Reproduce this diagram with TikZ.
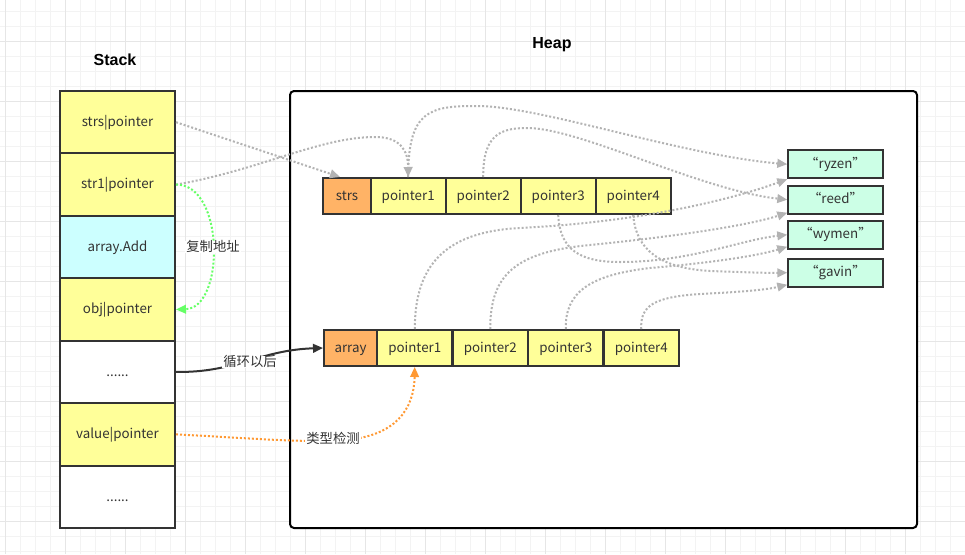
\documentclass[tikz,border=0pt]{standalone}
\usepackage{fontspec}
\setmainfont{Noto Sans CJK SC}
\newfontfamily\titlefont{Liberation Sans}
\usetikzlibrary{arrows.meta,calc}
\definecolor{bd}{HTML}{333333}
\definecolor{yel}{HTML}{FFFF99}
\definecolor{org}{HTML}{FFB366}
\definecolor{cyn}{HTML}{CCFFFF}
\definecolor{mint}{HTML}{CCFFE6}
\definecolor{gline}{HTML}{B3B3B3}
\definecolor{grn}{HTML}{66FF66}
\definecolor{orl}{HTML}{FF9933}
\definecolor{gridminor}{HTML}{F3F3F3}
\definecolor{gridmajor}{HTML}{E6E6E6}
\begin{document}
\begin{tikzpicture}[x=0.75pt,y=-0.75pt,
  txt/.style={font=\fontsize{10}{12}\selectfont,text=bd,text height=7pt,text depth=0.6pt},
  cell/.style={txt,draw=bd,line width=1.5pt,inner sep=0pt,minimum width=86.25pt,minimum height=46.8pt},
  hcell/.style={txt,draw=bd,line width=1.5pt,inner sep=0pt,fill=yel,minimum height=27pt},
  scell/.style={txt,draw=bd,line width=1.5pt,inner sep=0pt,fill=mint,minimum width=70.8pt,minimum height=21pt},
  ttl/.style={font=\titlefont\bfseries\fontsize{12}{14}\selectfont,text=black},
  lbl/.style={txt,fill=white,inner sep=1pt},
  dotline/.style={line width=1.5pt,dash pattern=on 1.5pt off 1.5pt},
  gconn/.style={dotline,draw=gline,-{Triangle[length=7.5pt,width=6.5pt]}},
  grnconn/.style={dotline,draw=grn,-{Triangle[length=7.5pt,width=6.5pt]}},
  orconn/.style={dotline,draw=orl,-{Triangle[length=7.5pt,width=6.5pt]}},
  darkconn/.style={draw=bd,line width=1.5pt,-{Triangle[length=7.5pt,width=6.5pt]}}]
\useasboundingbox (0,0) rectangle (965,554);
\fill[white] (0,0) rectangle (965,554);
% grid
\foreach \x in {5,20,...,965} \draw[gridminor,line width=0.75pt] (\x,0) -- (\x,554);
\foreach \y in {11.7,26.7,...,554} \draw[gridminor,line width=0.75pt] (0,\y) -- (965,\y);
\foreach \x in {5,65,...,965} \draw[gridmajor,line width=0.75pt] (\x,0) -- (\x,554);
\foreach \y in {41.7,101.7,...,554} \draw[gridmajor,line width=0.75pt] (0,\y) -- (965,\y);
% titles
\node[ttl] (stacktitle) at (115,60) {Stack};
\node[ttl] (heaptitle) at (552,45) {Heap};
% heap container
\node[draw=black,line width=1.5pt,fill=white,rounded corners=3pt,minimum width=470.25pt,minimum height=327.75pt,inner sep=0pt] (heap) at (603.5,309.5) {};
% stack
\node[cell,fill=yel] (sp) at (117.5,122.2) {strs|pointer};
\node[cell,fill=yel] (s1) at (117.5,184.6) {str1|pointer};
\node[cell,fill=cyn] (add) at (117.5,247.1) {array.Add};
\node[cell,fill=yel] (obj) at (117.5,309.5) {obj|pointer};
\node[cell,fill=white] (dots1) at (117.5,371.9) {......};
\node[cell,fill=yel] (val) at (117.5,434.4) {value|pointer};
\node[cell,fill=white] (dots2) at (117.5,496.8) {......};
% strs row
\node[hcell,fill=org,minimum width=35.55pt] (strs) at (347,196) {strs};
\node[hcell,minimum width=56.25pt] (hp1) at (408.2,196) {pointer1};
\node[hcell,minimum width=56.25pt] (hp2) at (483.2,196) {pointer2};
\node[hcell,minimum width=56.25pt] (hp3) at (558.2,196) {pointer3};
\node[hcell,minimum width=56.25pt] (hp4) at (633.2,196) {pointer4};
% array row
\node[hcell,fill=org,minimum width=39.75pt] (arr) at (350.5,348) {array};
\node[hcell,minimum width=56.6pt] (ap1) at (414.75,348) {pointer1};
\node[hcell,minimum width=56.6pt] (ap2) at (490.25,348) {pointer2};
\node[hcell,minimum width=56.6pt] (ap3) at (565.75,348) {pointer3};
\node[hcell,minimum width=56.6pt] (ap4) at (641.25,348) {pointer4};
% strings
\node[scell] (ryzen) at (835.5,164.2) {“ryzen”};
\node[scell] (reed) at (835.5,199.7) {“reed”};
\node[scell] (wymen) at (835.5,234.7) {“wymen”};
\node[scell] (gavin) at (835.5,272.7) {“gavin”};
% gray connectors
\draw[gconn] (sp.east) -- ($(strs.north)+(-7,0)$);
\draw[gconn] (s1.east) .. controls (260,170) and (320,137) .. (375,137) .. controls (400,137) and (408,150) .. (hp1.north);
\draw[gconn] (hp1.north) .. controls (408,110) and (430,106) .. (477,106) .. controls (540,106) and (680,155) .. (ryzen.west);
\draw[gconn] (hp2.north) .. controls (483,135) and (500,128) .. (527,128) .. controls (580,128) and (700,190) .. (reed.west);
\draw[gconn] (hp3.south) .. controls (560,250) and (580,262) .. (620,262) .. controls (690,262) and (740,240) .. (wymen.west);
\draw[gconn] (hp4.south) .. controls (636,250) and (660,268) .. (710,271) .. controls (740,272) and (760,273) .. (gavin.west);
\draw[gconn] (ap1.north) .. controls (415,270) and (440,232) .. (520,228) .. controls (640,222) and (730,200) .. (ryzen.south west);
\draw[gconn] (ap2.north) .. controls (490,275) and (515,252) .. (590,245) .. controls (680,236) and (750,225) .. ($(reed.south west)+(0,-2)$);
\draw[gconn] (ap3.north) .. controls (565,292) and (590,275) .. (650,268) .. controls (720,262) and (760,255) .. ($(wymen.south west)+(0,-3)$);
\draw[gconn] (ap4.north) .. controls (640,305) and (655,297) .. (700,294) .. controls (740,292) and (765,290) .. ($(gavin.south west)+(0,-3)$);
% green copy
\draw[grnconn] (s1.east) .. controls (225,184) and (225,308) .. (obj.east);
\node[lbl] (lblcopy) at (213,247) {复制地址};
% dark loop
\draw[darkconn] (dots1.east) .. controls (235,373) and (260,350) .. (arr.west);
\node[lbl] (lblloop) at (250,362) {循环以后};
% orange type check
\draw[orconn] (val.east) .. controls (250,438) and (300,443) .. (345,440) .. controls (395,436) and (414,410) .. (ap1.south);
\node[lbl] (lbltype) at (333,439) {类型检测};
\end{tikzpicture}
\end{document}
